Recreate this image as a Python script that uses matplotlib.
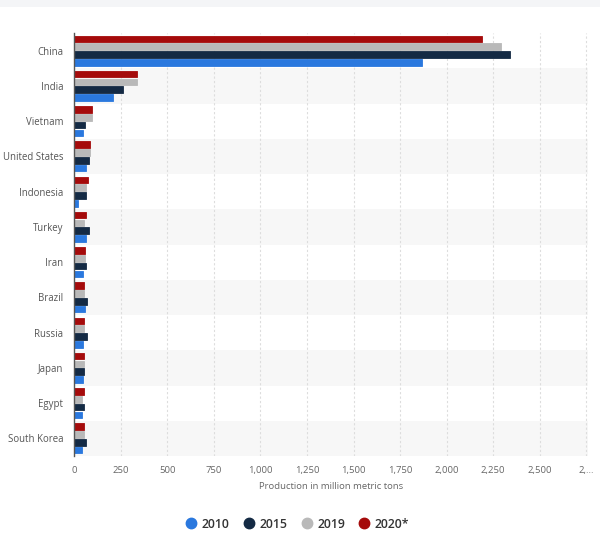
import matplotlib
matplotlib.use('Agg')
import matplotlib.pyplot as plt
from matplotlib.lines import Line2D
from matplotlib.patches import Rectangle
import numpy

plt.rcParams['font.family'] = ['Open Sans', 'DejaVu Sans']

# data (million metric tons)
countries = ['China', 'India', 'Vietnam', 'United States', 'Indonesia', 'Turkey',
             'Iran', 'Brazil', 'Russia', 'Japan', 'Egypt', 'South Korea']
v2010 = [1867, 205, 47, 60, 19, 62, 47, 56, 47, 47, 42, 42]
v2015 = [2342, 262, 56, 79, 62, 76, 62, 70, 67, 53, 53, 62]
v2019 = [2291, 334, 94, 85, 65, 53, 56, 53, 53, 49, 42, 49]
v2020 = [2188, 334, 94, 85, 72, 62, 56, 53, 53, 49, 49, 49]
years = ['2010', '2015', '2019', '2020*']
colors = ['#2a78de', '#142a44', '#b9b9b9', '#a50b0b']
xticks = [0, 250, 500, 750, 1000, 1250, 1500, 1750, 2000, 2250, 2500, 2750]
xticklabels = ['0', '250', '500', '750', '1,000', '1,250', '1,500', '1,750',
               '2,000', '2,250', '2,500', '2,...']

fig = plt.figure(figsize=(6, 5.41), dpi=100)
fig.patch.set_facecolor('white')
# light strip at the very top
fig.patches.append(Rectangle((0, 1 - 7/541), 1, 7/541, transform=fig.transFigure,
                             facecolor='#f4f5f7', edgecolor='none'))

ax = fig.add_axes([0.124, 1 - 456/541, 0.856, (456 - 33)/541])

n = len(countries)
y = numpy.arange(n)
pitch = 0.222
h = 0.19
series = [v2010, v2015, v2019, v2020]
offsets = [1.5*pitch, 0.5*pitch, -0.5*pitch, -1.5*pitch]

# alternating row shading
for i in range(n):
    if i % 2 == 1:
        ax.axhspan(i - 0.5, i + 0.5, color='#f7f7f7', zorder=0, lw=0)

for vals, off, c in zip(series, offsets, colors):
    ax.barh(y + off, vals, height=h, color=c, edgecolor=c, linewidth=0.6, zorder=3)

ax.set_ylim(n - 0.5, -0.5)
ax.set_xlim(0, 2760)
ax.set_yticks(y)
ax.set_yticklabels(countries, fontsize=6.9, color='#555555')
ax.set_xticks(xticks)
ax.set_xticklabels(xticklabels, fontsize=6.8, color='#666666')
ax.tick_params(axis='both', length=0)
ax.tick_params(axis='x', pad=7)
ax.tick_params(axis='y', pad=8)
ax.xaxis.grid(True, color='#dddddd', linestyle=(0, (2, 2)), linewidth=0.8, zorder=1)
ax.set_axisbelow(True)
for s in ['top', 'right', 'bottom']:
    ax.spines[s].set_visible(False)
ax.spines['left'].set_color('#555555')
ax.spines['left'].set_linewidth(1.0)
ax.spines['left'].set_zorder(4)
ax.set_xlabel('Production in million metric tons', fontsize=6.8, color='#666666', labelpad=5)

handles = [Line2D([0], [0], marker='o', linestyle='none', markersize=7.5,
                  markerfacecolor=c, markeredgecolor=c) for c in colors]
leg = fig.legend(handles, years, loc='center', bbox_to_anchor=(0.492, 1 - 524/541),
                 ncol=4, frameon=False, fontsize=8.8, handletextpad=0.05,
                 columnspacing=0.8, handlelength=1.6)
for t in leg.get_texts():
    t.set_fontweight('semibold')
    t.set_color('#333333')

fig.savefig('out.png', dpi=100)
